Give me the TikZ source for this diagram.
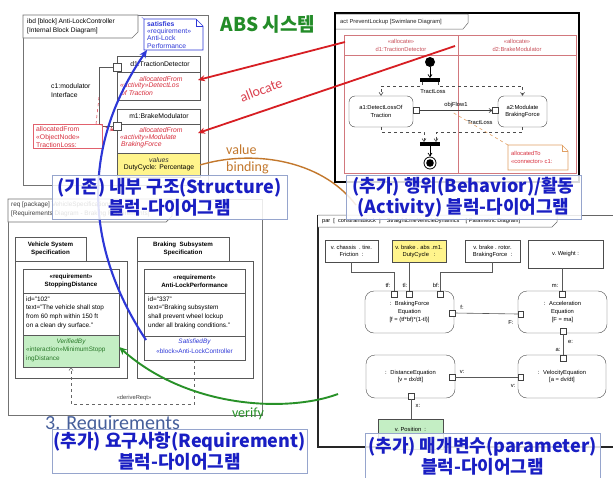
\documentclass[tikz,border=0pt]{standalone}
\usepackage{fontspec}
\setmainfont{Liberation Sans}
\newfontfamily\kor{Noto Sans CJK KR}
\newfontfamily\carl{Carlito}
\usetikzlibrary{arrows.meta}
\definecolor{alred}{RGB}{215,45,60}
\definecolor{arrred}{RGB}{215,30,35}
\definecolor{satblue}{RGB}{45,55,215}
\definecolor{capblue}{RGB}{25,30,195}
\definecolor{capframe}{RGB}{150,165,205}
\definecolor{vborange}{RGB}{195,120,45}
\definecolor{vgreen}{RGB}{40,145,40}
\definecolor{absgreen}{RGB}{35,140,40}
\definecolor{yel}{RGB}{255,244,140}
\definecolor{grn}{RGB}{196,238,196}
\definecolor{swim}{RGB}{210,120,125}
\definecolor{swimtxt}{RGB}{200,80,90}
\definecolor{reqblue}{RGB}{70,95,155}
\definecolor{notebrd}{RGB}{225,160,100}
\definecolor{dgreen}{RGB}{40,120,40}
\begin{document}
\begin{tikzpicture}[x=1pt,y=-1pt,
  bx/.style={anchor=north west, inner sep=0, outer sep=0},
  fr/.style={draw=black!55, line width=0.7},
  blk/.style={draw=black!65, line width=0.7},
  t7/.style={font=\fontsize{6.8}{7.4}\selectfont, inner sep=0, align=center},
  t6/.style={font=\fontsize{6.4}{8.6}\selectfont, inner sep=0, align=center},
  t5/.style={font=\fontsize{5.8}{8}\selectfont, inner sep=0, align=center},
  redit/.style={text=alred, font=\fontsize{6.8}{7.4}\selectfont\itshape},
  port/.style={draw=black!70, fill=white, minimum size=8pt, inner sep=0, outer sep=0},
  pport/.style={draw=black!75, fill=white, minimum size=5.5pt, inner sep=0, outer sep=0},
  vbox/.style={bx, draw=black!70, font=\fontsize{5.8}{7}\selectfont, align=center},
  eqbox/.style={bx, draw=black!70, rounded corners=9pt, font=\fontsize{5.8}{8.3}\selectfont, align=center},
  actbox/.style={draw=black!75, rounded corners=6pt, font=\fontsize{5.8}{7.5}\selectfont, align=center, inner sep=0},
  conn/.style={draw=black!65, line width=0.6},
  capbox/.style={bx, draw=capframe, line width=0.9, fill=white, fill opacity=0.85, text opacity=1, text=capblue, font=\kor\bfseries\fontsize{18}{21}\selectfont, align=center},
  allocarr/.style={draw=arrred, line width=1.8, -{Stealth[length=7pt,width=6pt]}},
  barb/.style={-{Straight Barb[length=3pt,width=4pt]}}
]
\useasboundingbox (0,0) rectangle (613,477);
\fill[white] (0,0) rectangle (613,477);

% ================= ibd =================
\node[bx, fr, minimum width=185pt, minimum height=170pt] (ibd) at (23,15) {};
\draw[fr, fill=white] (23,15) -- (138,15) -- (138,32) -- (132,38) -- (23,38) -- cycle;
\node[t7, anchor=north west, align=left, font=\fontsize{6.6}{8.5}\selectfont] (ibdh) at (27,19) {ibd [block] Anti-LockController\\{[Internal Block Diagram]}};
% satisfies note
\node[bx, minimum width=59pt, minimum height=31pt] (sat) at (144,19) {};
\draw[satblue, line width=0.6, fill=white] (144,19) -- (196,19) -- (203,26) -- (203,50) -- (144,50) -- cycle;
\draw[satblue, line width=0.6] (196,19) -- (196,26) -- (203,26);
\draw[satblue!60, dashed, line width=0.5] (sat.north west) -- (139,15);
\node[t7, text=satblue, anchor=north west, align=left] at (147,21) {\textbf{satisfies}\\«requirement»\\Anti-Lock\\Performance};
% d1 block
\node[bx, blk, fill=white, minimum width=83pt, minimum height=44pt] (d1) at (117,56) {};
\draw[blk] (117,72) -- (200,72);
\node[t7] at (160,64) {d1:TractionDetector};
\node[t7, redit] at (161,79) {allocatedFrom};
\node[t7, redit, anchor=west] at (120,86) {«activity»DetectLos};
\node[t7, redit, anchor=west] at (121,93) {of Traction};
% m1 block
\node[bx, blk, fill=white, minimum width=83pt, minimum height=68pt] (m1) at (117,109) {};
\draw[blk] (117,124) -- (200,124);
\node[bx, blk, fill=yel, minimum width=83pt, minimum height=24pt] (m1v) at (117,153) {};
\node[t7] at (159,116.5) {m1:BrakeModulator};
\node[t7, redit] at (161,130) {allocatedFrom};
\node[t7, redit, anchor=west] at (120,138) {«activity»Modulate};
\node[t7, redit, anchor=west] at (121,145) {BrakingForce};
\node[t7, text=black!80, font=\fontsize{6.8}{7.4}\selectfont\itshape] at (159,160) {values};
\node[t7] at (159,168) {DutyCycle: Percentage};
% ports and connector c1
\node[port] (p1) at (117,67) {};
\node[port] (p2) at (117.5,126.5) {};
\draw[conn] (p1.west) -- ++(-14,0) |- (p2.west);
\node[t7, anchor=west, align=left, font=\fontsize{6.8}{9}\selectfont] (c1l) at (51,90.5) {c1:modulator\\Interface};
% allocatedFrom note
\node[bx, draw=alred!75, line width=0.6, fill=white, minimum width=69pt, minimum height=24pt] (anote) at (33,124) {};
\node[t7, text=alred, anchor=north west, align=left, font=\fontsize{6.8}{8}\selectfont] at (36,126) {allocatedFrom\\«ObjectNode»\\TractionLoss:};
\draw[alred, dashed, line width=0.5] ([xshift=-6pt]anote.north east) -- (99,97);
\draw[alred, dashed, line width=0.5, barb] ([xshift=-3pt]anote.north east) -- (p2.south west);

% ================= req =================
\node[bx, fr, minimum width=254pt, minimum height=216pt] (req) at (8,199) {};
\draw[fr, fill=white] (8,199) -- (172,199) -- (172,216) -- (166,222) -- (8,222) -- cycle;
\node[t6, anchor=north west, align=left, text=black!75] (reqh) at (11,202) {req [package] VehicleSpecifications\\{[Requirements Diagram - Braking Requirements]}};
% package 1
\draw[blk] (15,261) -- (15,237) -- (86,237) -- (86,261);
\node[bx, blk, minimum width=112pt, minimum height=117pt] (pk1) at (15,261) {};
\node[t6, font=\fontsize{6.2}{8.6}\selectfont\bfseries] at (50.5,249) {Vehicle System\\Specification};
\node[bx, blk, fill=white, minimum width=96pt, minimum height=98pt] (sd) at (23,269) {};
\draw[blk] (23,293) -- (119,293);
\node[bx, blk, fill=grn, minimum width=96pt, minimum height=32pt] (sdv) at (23,335) {};
\node[t6, font=\fontsize{6.2}{8.2}\selectfont\bfseries] at (71,281) {«requirement»\\StoppingDistance};
\node[t6, anchor=north west, align=left] at (26,296.5) {id="102"\\text="The vehicle shall stop\\from 60 mph within 150 ft\\on a clean dry surface."};
\node[t6, text=dgreen, font=\fontsize{6.4}{8.6}\selectfont\itshape] at (71,342) {VerifiedBy};
\node[t6, text=dgreen, anchor=north west, align=left] at (26,347) {«interaction»MinimumStopp\\ingDistance};
% package 2
\draw[blk] (137,261) -- (137,237) -- (229,237) -- (229,261);
\node[bx, blk, minimum width=116pt, minimum height=117pt] (pk2) at (137,261) {};
\node[t6, font=\fontsize{6.2}{8.6}\selectfont\bfseries] at (183,249) {Braking\ \ Subsystem\\Specification};
\node[bx, blk, fill=white, minimum width=101pt, minimum height=91pt] (alp) at (144,269) {};
\draw[blk] (144,293) -- (245,293);
\node[bx, blk, minimum width=101pt, minimum height=24pt] (alps) at (144,336) {};
\node[t6, font=\fontsize{6.2}{8.2}\selectfont\bfseries] at (194.5,281) {«requirement»\\Anti-LockPerformance};
\node[t6, anchor=north west, align=left] at (148,296.5) {id="337"\\text="Braking subsystem\\shall prevent wheel lockup\\under all braking conditions."};
\node[t6, text=satblue, font=\fontsize{6.4}{8.6}\selectfont\itshape] at (194.5,342) {SatisfiedBy};
\node[t6, text=satblue] at (194.5,351) {«block»Anti-LockController};
% deriveReqt
\draw[black!60, dashed, line width=0.6, barb] (alp.south) -- ++(0,44) -| (sdv.south);
\node[t5, text=black!75] (drl) at (134,398) {«deriveReqt»};

% ================= activity =================
\node[bx, draw=black, line width=1.6, minimum width=244pt, minimum height=169pt] (act) at (335,13) {};
\draw[black!60, line width=0.5, fill=white] (336,14) -- (468,14) -- (468,23) -- (463,29) -- (336,29);
\node[t5, anchor=west, text=black!85] (acth) at (340,21.5) {act PreventLockup [Swimlane Diagram]};
\node[bx, draw=swim, line width=0.6, minimum width=114pt, minimum height=20pt] (lh1) at (344,35) {};
\node[bx, draw=swim, line width=0.6, minimum width=118pt, minimum height=20pt] (lh2) at (458,35) {};
\node[bx, draw=swim, line width=0.6, minimum width=114pt, minimum height=118pt] (l1) at (344,55) {};
\node[bx, draw=swim, line width=0.6, minimum width=118pt, minimum height=118pt] (l2) at (458,55) {};
\node[t5, text=swimtxt] at (lh1.center) {«allocate»\\d1:TractionDetector};
\node[t5, text=swimtxt] at (lh2.center) {«allocate»\\d2:BrakeModulator};
\node[circle, fill=black, minimum size=10pt, inner sep=0] (init) at (430,62) {};
\node[fill=black, minimum width=20pt, minimum height=3.5pt, inner sep=0] (fork) at (430,80) {};
\draw[black, line width=0.7, barb] (init) -- (fork);
\node[actbox, minimum width=64pt, minimum height=31pt] (a1) at (381,111.5) {a1:DetectLossOf\\Traction};
\node[actbox, minimum width=49pt, minimum height=31pt] (a2) at (522.5,111.5) {a2:Modulate\\BrakingForce};
\node[pport, minimum size=6pt] (a1p) at (416.5,110.5) {};
\node[pport, minimum size=6pt] (a2p) at (495.5,110.5) {};
\draw[black!75, line width=0.6, barb] (a1p.east) -- (a2p.west);
\node[t5] (ofl) at (456,104.5) {objFlow1};
\draw[black!70, dashed, line width=0.6, barb] ([xshift=-8pt]fork.south) -- ++(0,4) -| (a1.north);
\draw[black!70, dashed, line width=0.6, barb] ([xshift=8pt]fork.south) -- ++(0,4) -| (a2.north);
\node[fill=black, minimum width=20pt, minimum height=3.5pt, inner sep=0] (join) at (430,144) {};
\draw[black!70, dashed, line width=0.6, barb] (a1.south) -- ++(0,5) -| ([xshift=-6pt]join.north);
\draw[black!70, dashed, line width=0.6, barb] (a2.south) -- ++(0,5) -| ([xshift=6pt]join.north);
\node[circle, draw=black, line width=0.8, fill=white, minimum size=12pt, inner sep=0] (fin) at (430,163) {};
\fill[black] (fin.center) circle (3.8);
\draw[black, line width=0.7, barb] (join.south) -- (fin.north);
\node[t5] (tl1) at (433,92) {TractLoss};
\node[t5] (tl2) at (480,123) {TractLoss};
\node[bx, minimum width=60pt, minimum height=25pt] (atn) at (508,145) {};
\draw[notebrd, line width=0.6, fill=white] (508,145) -- (562,145) -- (568,151) -- (568,170) -- (508,170) -- cycle;
\draw[notebrd, line width=0.6] (562,145) -- (562,151) -- (568,151);
\node[t5, text=alred, anchor=north west, align=left, font=\fontsize{5.8}{8.5}\selectfont] at (511,151) {allocatedTo\\«connector» c1:};
\coordinate (ofpt) at (452,112);
\draw[notebrd, dashed, line width=0.6] (atn.north west) -- (ofpt);

% ================= parametric =================
\draw[black!60, line width=0.6] (613,215) -- (318,215);
\draw[black!85, line width=1.3] (318,215) -- (318,447) -- (613,447);
\draw[black!60, line width=0.5, fill=white] (318,215) -- (557,215) -- (557,222) -- (552,227) -- (318,227);
\node[t5, anchor=west, font=\fontsize{5.6}{7}\selectfont] (parh) at (322,221.5) {par\ \ [\ \ constraintBlock\ \ ]\ \ \ \ StraightLineVehicleDynamics\ \ \ \ [\ Parametric Diagram]};
\node[vbox, minimum width=53pt, minimum height=22pt] (vf) at (325,240) {v.\ chassis\ \ .\ tire.\\Friction\ \ :};
\node[vbox, fill=yel, minimum width=54pt, minimum height=22pt] (vd) at (392,240) {v.\ brake\ .\ abs\ .m1.\\DutyCycle\ \ \ :};
\node[vbox, minimum width=55pt, minimum height=22pt] (vb) at (465,240) {v.\ brake\ .\ rotor.\\BrakingForce\ \ :};
\node[vbox, minimum width=75pt, minimum height=28pt] (vw) at (528,240) {v.\ Weight\ :};
\node[eqbox, minimum width=89pt, minimum height=42pt] (bfe) at (365,291) {: \ BrakingForce\\Equation\\{[f = (tf*bf)*(1-tl)]}};
\node[eqbox, minimum width=89pt, minimum height=42pt] (acc) at (518,291) {: \ Acceleration\\Equation\\{[F = ma]}};
\node[eqbox, minimum width=89pt, minimum height=43pt, font=\fontsize{5.8}{7}\selectfont] (dist) at (366,355) {: \ DistanceEquation\\{[v = dx/dt]}};
\node[eqbox, minimum width=88pt, minimum height=43pt, font=\fontsize{5.8}{7}\selectfont] (vel) at (518,355) {: \ VelocityEquation\\{[a = dv/dt]}};
\node[vbox, fill=grn, minimum width=65pt, minimum height=30pt] (vp) at (378,419) {};
\node[t5] at (410.5,429.5) {v.\ Position\ \ :};
% ports
\node[pport] (ptf) at (394,294) {};
\node[pport] (ptl) at (409,294) {};
\node[pport] (pbf) at (440,294) {};
\node[pport] (pm) at (562,294) {};
\node[pport] (pf) at (452,313) {};
\node[pport] (pF) at (520.5,314) {};
\node[pport] (pe) at (563,331) {};
\node[pport] (pa) at (563,358) {};
\node[pport] (pvd) at (452,377) {};
\node[pport] (pvv) at (520.5,377) {};
\node[pport] (px) at (411,396) {};
% connectors
\draw[conn] (vf.south) -- ++(0,10) -| (ptf.north);
\draw[conn] (ptl.north) -- (ptl.north |- vd.south);
\draw[conn] (vb.south) -- ++(0,10) -| (pbf.north);
\draw[conn] (pm.north) -- (pm.north |- vw.south);
\draw[conn] (pf.east) -- (pF.west);
\draw[conn] (pe.south) -- (pa.north);
\draw[conn] (pvd.east) -- (pvv.west);
\draw[conn] (px.south) -- (px.south |- vp.north);
% port labels
\node[t5] at (388,285.5) {tf:};
\node[t5] at (405,285.5) {tl:};
\node[t5] at (436,285.5) {bf:};
\node[t5] at (555,286) {m:};
\node[t5] at (462,307) {f:};
\node[t5] at (511,322) {F:};
\node[t5] at (570.5,342) {e:};
\node[t5] at (558,350) {a:};
\node[t5] at (462,372) {v:};
\node[t5] at (513,386) {v:};
\node[t5] at (418,406) {x:};

% ================= cross-diagram arrows =================
\coordinate (a1s) at (345,42);
\coordinate (a2s) at (455,46);
\draw[allocarr] (a1s) -- ([xshift=-2pt,yshift=-2pt]d1.east);
\draw[allocarr] (a2s) -- (198,133);
\draw[satblue, line width=2.1, -{Stealth[length=8pt,width=7pt]}] ([shift={(2pt,-4pt)}]alps.north west) .. controls (80,240) and (85,140) .. ([xshift=3pt]sat.south west);
\coordinate (vstart) at (338,394);
\draw[vgreen, line width=1.9, -{Stealth[length=8pt,width=7pt]}] (vstart) .. controls (290,412) and (190,410) .. ([yshift=4pt]sdv.east);
\coordinate (vbend) at (356,205);
\draw[vborange, line width=1.4] (m1v.east) .. controls (250,150) and (320,158) .. (vbend);

% ================= free texts =================
\node[font=\carl\fontsize{20}{20}\selectfont, text=reqblue, anchor=base west, inner sep=0] (reqtitle) at (45,429.5) {3. Requirements};

% ================= captions =================
\node[capbox, minimum width=235pt, minimum height=44pt] (cap1) at (52,175) {(기존) 내부 구조(Structure)\\블럭-다이어그램};
\node[capbox, minimum width=235pt, minimum height=44pt] (cap2) at (346,175) {(추가) 행위(Behavior)/활동\\(Activity) 블럭-다이어그램};
\node[capbox, minimum width=255pt, minimum height=44pt] (cap3) at (52,429) {(추가) 요구사항(Requirement)\\블럭-다이어그램};
\node[capbox, minimum width=235pt, minimum height=46pt] (cap4) at (365,433) {(추가) 매개변수(parameter)\\블럭-다이어그램};

\node[font=\kor\bfseries\fontsize{19}{19}\selectfont, text=absgreen, inner sep=0] (abs) at (268,24) {ABS 시스템};
\node[font=\carl\fontsize{14}{14}\selectfont, text=alred!90, rotate=21, inner sep=0] (alloc) at (261,90) {allocate};
\node[font=\carl\fontsize{14}{14}\selectfont, text=vborange, anchor=west, inner sep=0] (vb1) at (226,150) {value};
\node[font=\carl\fontsize{14}{14}\selectfont, text=vborange, anchor=west, inner sep=0] (vb2) at (226,168) {binding};
\node[font=\carl\fontsize{14}{14}\selectfont, text=vgreen, inner sep=0] (verify) at (248,414) {verify};
\end{tikzpicture}
\end{document}
